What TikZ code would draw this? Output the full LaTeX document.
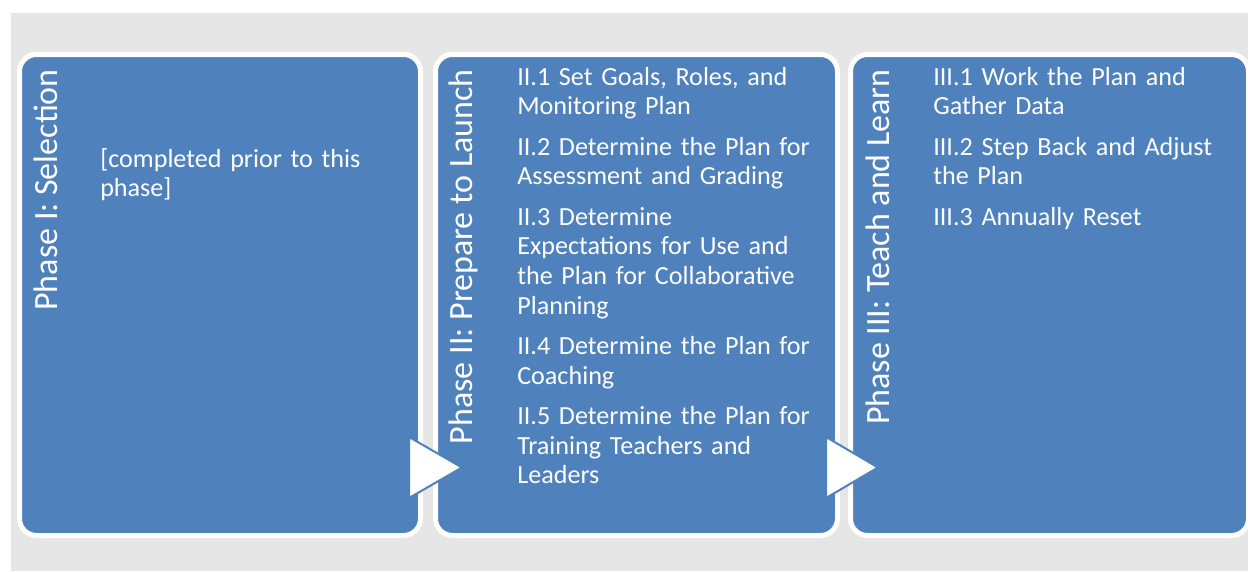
\documentclass[tikz,border=0pt]{standalone}
\usepackage{fontspec}
\setmainfont{Carlito}
\usepackage{tikz}

\definecolor{phaseblue}{HTML}{4F81BD}
\definecolor{bggray}{HTML}{E6E6E6}

\tikzset{
  phasebox/.style={fill=phaseblue, draw=white, line width=3.75pt, rounded corners=12.75pt},
  phasetitle/.style={rotate=90, anchor=base east, inner sep=0pt, text=white,
    font=\fontsize{25.5pt}{30pt}\selectfont},
  phasetext/.style={anchor=base west, inner sep=0pt, text=white, text width=240pt,
    align=left, font=\fontsize{19.6pt}{22.3pt}\selectfont},
  chevron/.style={fill=white, draw=phaseblue, line width=1.5pt}
}

\begin{document}
\begin{tikzpicture}[x=0.75pt,y=-0.75pt]
\useasboundingbox (0,0) rectangle (1248,571);
\fill[bggray] (11,13) rectangle (1248,571);
% the three phases
\draw[phasebox] (19.5,54.5) rectangle (420.5,535.5);
\draw[phasebox] (435.5,54.5) rectangle (837.5,535.5);
\draw[phasebox] (850.5,54.5) rectangle (1248.5,535.5);
\node[phasetitle] (sel) at (57,69) {Phase I: Selection};
\node[phasetitle] (prep) at (472,69) {Phase II: Prepare to Launch};
\node[phasetitle] (teach) at (889,69) {Phase III: Teach and Learn};
\node[phasetext] (seltext) at (100,167) {[completed prior to this\\phase]};
\node[phasetext] (preptext) at (517,85) {II.1 Set Goals, Roles, and\\Monitoring Plan\\[7.9pt]
  II.2 Determine the Plan for\\Assessment and Grading\\[7.9pt]
  II.3 Determine\\Expectations for Use and\\the Plan for Collaborative\\Planning\\[7.9pt]
  II.4 Determine the Plan for\\Coaching\\[7.9pt]
  II.5 Determine the Plan for\\Training Teachers and\\Leaders};
\node[phasetext] (teachtext) at (933,85) {III.1 Work the Plan and\\Gather Data\\[7.9pt]
  III.2 Step Back and Adjust\\the Plan\\[7.9pt]
  III.3 Annually Reset};
% arrows between phases
\draw[chevron] (409,437) -- (462,467.5) -- (409,498) -- cycle;
\draw[chevron] (826,437) -- (878,467.5) -- (826,498) -- cycle;
\end{tikzpicture}
\end{document}
